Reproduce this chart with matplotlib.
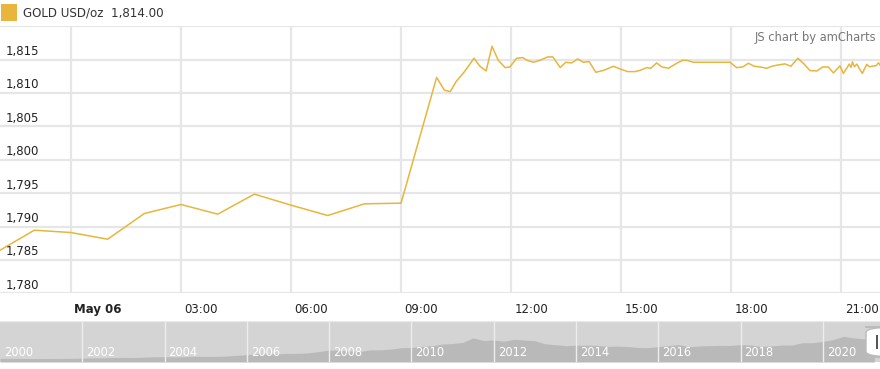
import matplotlib
matplotlib.use("Agg")
import matplotlib.pyplot as plt
from matplotlib.patches import Rectangle, FancyBboxPatch

# ---------------- data ----------------
hours = [-2.0, -1.0, 0.0, 1.0, 2.0, 3.0, 4.0, 5.0, 6.0, 7.0, 8.0, 9.0,
         9.97, 10.18, 10.34, 10.5, 10.73, 10.99, 11.15, 11.32, 11.48, 11.65,
         11.84, 11.97, 12.15, 12.32, 12.43, 12.61, 12.79, 13.0, 13.14, 13.34,
         13.49, 13.65, 13.82, 13.97, 14.13, 14.31, 14.53, 14.79, 14.97, 15.18,
         15.38, 15.52, 15.7, 15.81, 15.97, 16.11, 16.29, 16.52, 16.68, 16.79,
         16.97, 17.97, 18.15, 18.32, 18.47, 18.63, 18.79, 18.97, 19.11, 19.29,
         19.47, 19.63, 19.82, 19.97, 20.15, 20.34, 20.5, 20.65, 20.79, 20.97,
         21.06, 21.15, 21.22, 21.27, 21.31, 21.36, 21.43, 21.52, 21.58, 21.63,
         21.7, 21.77, 21.86, 21.95, 22.02, 22.06]
price = [1786.25, 1789.45, 1789.1, 1788.1, 1791.95, 1793.3, 1791.85, 1794.85,
         1793.2, 1791.65, 1793.4, 1793.5,
         1812.33, 1810.43, 1810.2, 1811.7, 1813.2, 1815.2, 1814.0, 1813.3,
         1817.0, 1814.9, 1813.8, 1813.9, 1815.2, 1815.3, 1814.9, 1814.6,
         1814.9, 1815.4, 1815.4, 1813.8, 1814.6, 1814.5, 1815.1, 1814.6,
         1814.7, 1813.1, 1813.4, 1814.0, 1813.6, 1813.2, 1813.2, 1813.4,
         1813.8, 1813.7, 1814.5, 1813.9, 1813.7, 1814.45, 1814.9, 1814.9,
         1814.6, 1814.6, 1813.8, 1813.9, 1814.45, 1814.0, 1813.9, 1813.7,
         1814.0, 1814.2, 1814.35, 1814.0, 1815.2, 1814.45, 1813.35, 1813.3,
         1813.9, 1813.9, 1813.0, 1814.07, 1812.93, 1813.68, 1814.33, 1813.83,
         1814.67, 1813.92, 1814.33, 1813.43, 1812.93, 1813.53, 1814.28,
         1813.92, 1814.03, 1814.07, 1814.52, 1814.18]
y_ticks = [1780, 1785, 1790, 1795, 1800, 1805, 1810, 1815, 1820]
x_ticks = [0, 3, 6, 9, 12, 15, 18, 21]
x_labels = ["May 06", "03:00", "06:00", "09:00", "12:00", "15:00", "18:00", "21:00"]
legend_label = "GOLD USD/oz"
legend_value = "1,814.00"

# navigator: long-term gold history (quarterly, 2000 .. 2021)
nav_years = [2000 + 0.25 * i for i in range(86)]
nav_price = [285, 280, 275, 270, 265, 270, 275, 280, 295, 315, 315, 340,
             350, 345, 370, 400, 405, 395, 405, 440, 425, 430, 460, 510,
             560, 630, 620, 630, 660, 665, 700, 800, 920, 890, 850, 800,
             930, 930, 990, 1100, 1110, 1200, 1240, 1380, 1420, 1510, 1850, 1650,
             1690, 1600, 1740, 1690, 1630, 1400, 1330, 1250, 1290, 1290, 1280, 1200,
             1220, 1190, 1120, 1100, 1180, 1260, 1330, 1170, 1230, 1260, 1280, 1270,
             1330, 1300, 1200, 1240, 1300, 1300, 1480, 1480, 1580, 1720, 1970, 1850,
             1780, 1810]
nav_labels = list(range(2000, 2021, 2))

# ---------------- style ----------------
GOLD = "#E8B53D"
GRID = "#E6E6E6"
TXT = "#222222"
W, H = 880, 369

fig = plt.figure(figsize=(W / 100, H / 100), dpi=100)
fig.patch.set_facecolor("white")

def fx(px):
    return px / W

def fy(py):
    return 1 - py / H

# main axes
ax = fig.add_axes([0, fy(293.3), 1, fy(26.2) - fy(293.3)])
ax.set_xlim(-1.936, 22.06)
ax.set_ylim(1780, 1820)
for s in ax.spines.values():
    s.set_visible(False)
ax.set_xticks([])
ax.set_yticks([])
for v in y_ticks:
    ax.axhline(v, color=GRID, lw=1.6, zorder=0)
for h in x_ticks:
    ax.axvline(h, color=GRID, lw=1.6, zorder=0)
ax.plot(hours, price, color=GOLD, lw=1.1, zorder=3)

# y labels inside plot, above gridlines
for v in y_ticks[:-1]:
    ax.annotate(f"{v:,}", xy=(0, v), xycoords=("axes fraction", "data"),
                xytext=(6, 1.5), textcoords="offset pixels",
                ha="left", va="bottom", fontsize=8.5, color=TXT)

# x labels below plot, right of gridlines
for h, lab in zip(x_ticks, x_labels):
    ax.annotate(lab, xy=(h, 0), xycoords=("data", "axes fraction"),
                xytext=(3.5, -16), textcoords="offset pixels",
                ha="left", va="center", fontsize=8.5, color=TXT,
                fontweight="bold" if lab.startswith("May") else "normal")

# legend
fig.patches.append(Rectangle((fx(1), fy(21)), fx(16), fy(4) - fy(21),
                             transform=fig.transFigure, facecolor=GOLD,
                             edgecolor="none"))
fig.text(fx(22.5), fy(13), f"{legend_label}  {legend_value}", ha="left",
         va="center", fontsize=8.6, color="#333333")

# credit
fig.text(fx(876), fy(37), "JS chart by amCharts", ha="right", va="center",
         fontsize=8.3, color="#777777")

# navigator
nav = fig.add_axes([0, fy(362), 1, fy(321) - fy(362)])
nav.set_facecolor("#D4D4D4")
nav.set_xlim(2000, 2021.39)
nav.set_ylim(0, 3150)
for s in nav.spines.values():
    s.set_visible(False)
nav.set_xticks([])
nav.set_yticks([])
nav.fill_between(nav_years, nav_price, 0, color="#B9B9B9", lw=0, zorder=1)
for yr in nav_labels:
    if yr > 2000:
        nav.axvline(yr, color="#EDEDED", lw=1.0, zorder=2)
    nav.annotate(str(yr), xy=(yr, 0), xycoords=("data", "axes fraction"),
                 xytext=(4, 9), textcoords="offset pixels",
                 ha="left", va="center", fontsize=8.3, color="white", zorder=3)
nav.axhline(3150, color="#E8E8E8", lw=1.0)

# handle at right end
fig.patches.append(FancyBboxPatch((fx(866), fy(357)), fx(30), fy(327) - fy(357),
                                  boxstyle="round,pad=0,rounding_size=0.035",
                                  transform=fig.transFigure, facecolor="white",
                                  edgecolor="#BBBBBB", lw=1.0, zorder=5,
                                  mutation_aspect=H / W))
fig.patches.append(Rectangle((fx(876), fy(349)), fx(2), fy(335) - fy(349),
                             transform=fig.transFigure, facecolor="#555555",
                             edgecolor="none", zorder=6))

fig.savefig("out.png", dpi=100, facecolor="white")
